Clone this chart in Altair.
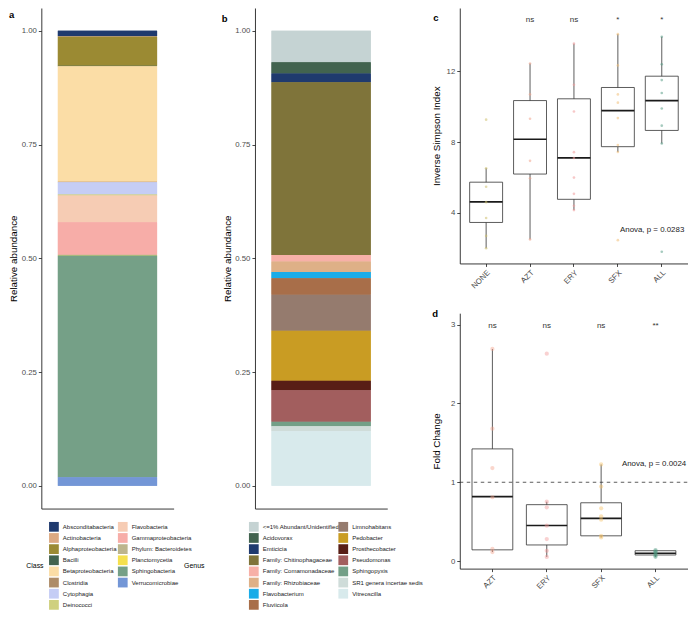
import altair as alt
import pandas as pd

FONT = "Liberation Sans, Arial, Helvetica, sans-serif"

# ---------------- data ----------------
CLASS_NAMES = ["Absconditabacteria", "Actinobacteria", "Alphaproteobacteria", "Bacilli",
               "Betaproteobacteria", "Clostridia", "Cytophagia", "Deinococci",
               "Flavobacteria", "Gammaproteobacteria", "Phylum: Bacteroidetes",
               "Planctomycetia", "Sphingobacteria", "Verrucomicrobiae"]
CLASS_VALUES = [0.012, 0.001, 0.064, 0.001, 0.254, 0.001, 0.027, 0.002,
                0.059, 0.071, 0.001, 0.001, 0.487, 0.019]
CLASS_COLORS = ["#1f3a6e", "#dca982", "#9b8a33", "#42634f", "#fbdda6", "#ae8c68",
                "#c5cdf5", "#cfd07e", "#f6ccb4", "#f7ada8", "#bdb58d", "#f5e04e",
                "#75a087", "#7396d6"]

GENUS_NAMES = ["<=1% Abundant/Unidentified", "Acidovorax", "Emticicia",
               "Family: Chitinophagaceae", "Family: Comamonadaceae", "Family: Rhizobiaceae",
               "Flavobacterium", "Fluviicola", "Limnohabitans", "Pedobacter",
               "Prosthecobacter", "Pseudomonas", "Sphingopyxis",
               "SR1 genera incertae sedis", "Vitreoscilla"]
GENUS_VALUES = [0.069, 0.025, 0.019, 0.380, 0.014, 0.023, 0.014, 0.036,
                0.079, 0.110, 0.021, 0.069, 0.010, 0.011, 0.120]
GENUS_COLORS = ["#c5d3d3", "#42634f", "#1f3a6e", "#7f743a", "#f7b0a7", "#deb087",
                "#1aace8", "#a86e49", "#957b6e", "#c99c23", "#581e16", "#a25e5e",
                "#739f87", "#cfdcd9", "#d8eaec"]

# panel c : Inverse Simpson index
C_GROUPS = ["NONE", "AZT", "ERY", "SFX", "ALL"]
C_LOWER = [1.99, 2.49, 4.15, 7.44, 7.92]
C_Q1 = [3.45, 6.19, 4.76, 7.74, 8.66]
C_MEDIAN = [4.61, 8.16, 7.11, 9.78, 10.35]
C_Q3 = [5.73, 10.35, 10.45, 11.09, 11.73]
C_UPPER = [6.52, 12.45, 13.57, 14.11, 13.96]
C_PTS_NONE = [9.27, 6.52, 5.47, 4.60, 3.70, 2.69, 1.99]
C_PTS_AZT = [12.45, 10.70, 9.32, 6.94, 5.95, 2.49]
C_PTS_ERY = [13.57, 11.24, 9.73, 7.43, 7.10, 5.99, 5.07, 4.39, 4.15]
C_PTS_SFX = [14.11, 12.34, 10.70, 10.23, 9.36, 7.83, 7.44, 2.45]
C_PTS_ALL = [13.96, 12.40, 11.51, 10.78, 9.90, 8.93, 7.92, 1.79]
C_PT_COLORS = ["#cdbf6e", "#f0a48c", "#f09a9a", "#f3bf78", "#5b9e88"]
C_SIG_GROUPS = ["AZT", "ERY", "SFX", "ALL"]
C_SIG = ["ns", "ns", "*", "*"]
C_ANOVA = "Anova, p = 0.0283"

# panel d : fold change
D_GROUPS = ["AZT", "ERY", "SFX", "ALL"]
D_LOWER = [0.115, 0.053, 0.300, 0.055]
D_Q1 = [0.143, 0.205, 0.321, 0.078]
D_MEDIAN = [0.818, 0.452, 0.543, 0.100]
D_Q3 = [1.423, 0.716, 0.740, 0.132]
D_UPPER = [2.690, 0.753, 1.226, 0.140]
D_PTS_AZT = [2.69, 1.68, 1.18, 0.81, 0.156, 0.115]
D_PTS_ERY = [2.63, 0.753, 0.683, 0.45, 0.28, 0.131, 0.053]
D_PTS_SFX = [1.226, 0.946, 0.67, 0.568, 0.526, 0.321, 0.30]
D_PTS_ALL = [0.14, 0.125, 0.11, 0.09, 0.07, 0.055]
D_PT_COLORS = ["#f3a58f", "#f29a9a", "#f7c46a", "#4f9a80"]
D_SIG = ["ns", "ns", "ns", "**"]
D_ANOVA = "Anova, p = 0.0024"
D_REF = 1.0

# ---------------- layout helpers ----------------
SX, SY = 0.98, 0.975
W, H = 680, 602


def px(x):
    return round((x - 2) * SX, 2)


def py(y):
    return round((y - 2) * SY, 2)


def bar_panel(names, values, colors, x0, x1, title, leg1x, title_pad, leg2x, split):
    df = pd.DataFrame({"taxon": names, "abundance": values,
                       "rank": list(range(len(names))), "sample": ["S"] * len(names)})
    x = alt.X("sample:N",
              scale=alt.Scale(domain=["S"], range=[px(x0), px(x1)], paddingInner=0, paddingOuter=0.1),
              axis=alt.Axis(orient="bottom", offset=py(515.4) - H, labels=False, ticks=False, title=None))
    y = alt.Y("abundance:Q", stack="zero",
              scale=alt.Scale(domain=[-0.05, 1.05], range=[py(515.4), 0], nice=False, zero=False),
              axis=alt.Axis(orient="left", offset=-px(x0), values=[0, 0.25, 0.5, 0.75, 1.0],
                            format=".2f", title="Relative abundance", titleX=-27.6,
                            titleBaseline="middle"))
    order = alt.Order("rank:Q", sort="descending")
    common = dict(orient="none", legendY=py(529), direction="vertical", symbolType="square",
                  symbolSize=95, symbolStrokeWidth=0, labelFontSize=6, rowPadding=1.15,
                  labelOffset=3.9, padding=0, labelColor="#1a1a1a", labelLimit=300)
    leg1 = alt.Legend(values=names[:split], title=title, legendX=leg1x, titleOrient="left",
                      titlePadding=title_pad, titleFontSize=6.9, titleFontWeight="normal",
                      titleColor="#000000", **common)
    leg2 = alt.Legend(values=names[split:], title=None, legendX=leg2x, **common)
    layers = []
    for leg in (leg1, leg2):
        layers.append(
            alt.Chart(df).mark_bar(width=alt.RelativeBandSize(0.9), opacity=1).encode(
                x=x, y=y, order=order,
                color=alt.Color("taxon:N", scale=alt.Scale(domain=names, range=colors), legend=leg)))
    return alt.layer(*layers).resolve_scale(color="independent")


def box_panel(groups, lower, q1, med, q3, upper, pts, pcols, sig_groups, sig, sig_y,
              anova_text, anova_y, anova_dx, ydom, yr_bottom, yr_top, yvals, ytitle,
              box_w, pt_size, pt_opacity, ref=None):
    xsc = alt.Scale(domain=groups, range=[px(463), px(696)], paddingInner=0, paddingOuter=0.1)
    xax = alt.Axis(orient="bottom", offset=yr_bottom - H, labelAngle=-45, labelAlign="right",
                   labelBaseline="top", title=None)
    ysc = alt.Scale(domain=ydom, range=[yr_bottom, yr_top], nice=False, zero=False)
    yax = alt.Axis(orient="left", offset=-px(463), values=yvals, format="d", title=ytitle,
                   titleX=-23, titleBaseline="middle")

    def X():
        return alt.X("grp:N", scale=xsc, axis=xax)

    def Y(f):
        return alt.Y(f + ":Q", scale=ysc, axis=yax)

    box_df = pd.DataFrame({"grp": groups, "lower": lower, "q1": q1, "median": med,
                           "q3": q3, "upper": upper})
    rows = []
    for g, vals, c in zip(groups, pts, pcols):
        for v in vals:
            rows.append({"grp": g, "value": v, "col": c})
    pt_df = pd.DataFrame(rows)
    sig_df = pd.DataFrame({"grp": sig_groups, "label": sig, "ypos": [sig_y] * len(sig)})
    an_df = pd.DataFrame({"grp": [groups[-1]], "label": [anova_text], "ypos": [anova_y]})

    box = alt.Chart(box_df).mark_bar(width=alt.RelativeBandSize(0.75), fill="transparent",
                                     stroke="#333333", strokeWidth=0.8, opacity=1).encode(
        x=X(), y=Y("q1"), y2="q3")
    whi = alt.Chart(box_df).mark_rule(color="#333333", strokeWidth=0.8).encode(
        x=X(), y=Y("q3"), y2="upper")
    wlo = alt.Chart(box_df).mark_rule(color="#333333", strokeWidth=0.8).encode(
        x=X(), y=Y("lower"), y2="q1")
    medl = alt.Chart(box_df).mark_tick(color="#1a1a1a", thickness=1.7, size=box_w, opacity=1).encode(
        x=X(), y=Y("median"))
    points = alt.Chart(pt_df).mark_circle(size=pt_size, opacity=pt_opacity).encode(
        x=X(), y=Y("value"), color=alt.Color("col:N", scale=None))
    sigt = alt.Chart(sig_df).mark_text(fontSize=8, baseline="alphabetic", color="#333333").encode(
        x=X(), y=Y("ypos"), text="label:N")
    an = alt.Chart(an_df).mark_text(fontSize=7.9, align="right", baseline="alphabetic",
                                    dx=anova_dx, color="#1a1a1a").encode(
        x=X(), y=Y("ypos"), text="label:N")
    inner = alt.layer(box, whi, wlo, medl, points, sigt, an)
    if ref is None:
        return inner
    ref_df = pd.DataFrame({"x0": [0.0], "x1": [1.0], "yref": [ref]})
    rule = alt.Chart(ref_df).mark_rule(strokeDash=[3.5, 3.5], color="#333333", strokeWidth=0.8).encode(
        x=alt.X("x0:Q", scale=alt.Scale(domain=[0, 1], range=[px(463), px(696)]), axis=None),
        x2="x1", y=Y("yref"))
    return alt.layer(inner, rule).resolve_scale(x="independent")


panel_a = bar_panel(CLASS_NAMES, CLASS_VALUES, CLASS_COLORS, 36, 171, "Class",
                    px(20.7), 4.6, px(114), 8)
panel_b = bar_panel(GENUS_NAMES, GENUS_VALUES, GENUS_COLORS, 254, 389, "Genus",
                    px(181.7), 43.7, px(339), 8)

panel_c = box_panel(C_GROUPS, C_LOWER, C_Q1, C_MEDIAN, C_Q3, C_UPPER,
                    [C_PTS_NONE, C_PTS_AZT, C_PTS_ERY, C_PTS_SFX, C_PTS_ALL], C_PT_COLORS,
                    C_SIG_GROUPS, C_SIG, 14.79, C_ANOVA, 2.90, 22.5,
                    [1.13, 15.59], py(264), py(2), [4, 8, 12], "Inverse Simpson Index",
                    32.9, 7, 0.55)
panel_d = box_panel(D_GROUPS, D_LOWER, D_Q1, D_MEDIAN, D_Q3, D_UPPER,
                    [D_PTS_AZT, D_PTS_ERY, D_PTS_SFX, D_PTS_ALL], D_PT_COLORS,
                    D_GROUPS, D_SIG, 2.96, D_ANOVA, 1.207, 30.7,
                    [-0.095, 3.144], py(577), py(315), [0, 1, 2, 3], "Fold Change",
                    40.8, 18, 0.45, ref=D_REF)

PANEL_LETTERS = ["a", "b", "c", "d"]
LETTER_POS = [(1, 10), (px(220), py(16.7)), (px(436), py(15)), (px(435), py(319.3))]
letters = []
for t, (lx, ly) in zip(PANEL_LETTERS, LETTER_POS):
    letters.append(
        alt.Chart(pd.DataFrame({"t": [t]})).mark_text(
            fontSize=9.5, fontWeight="bold", align="left", baseline="alphabetic", color="#000000"
        ).encode(text="t:N", x=alt.value(lx), y=alt.value(ly)))

chart = alt.layer(panel_a, panel_b, panel_c, panel_d, *letters).resolve_scale(
    x="independent", y="independent", color="independent"
).properties(
    width=W, height=H, padding=0, autosize=alt.AutoSizeParams(type="none")
).configure(font=FONT).configure_view(stroke=None).configure_axis(
    domainColor="#222222", domainWidth=0.9, tickColor="#333333", tickWidth=0.9, tickSize=3,
    labelColor="#4d4d4d", labelFontSize=7.8, labelPadding=2, titleFontSize=9.8,
    titleFontWeight="normal", titleColor="#000000", grid=False, labelFont=FONT, titleFont=FONT
).configure_legend(labelFont=FONT, titleFont=FONT)

chart.save("out.html", embed_options={"renderer": "svg", "actions": False})
